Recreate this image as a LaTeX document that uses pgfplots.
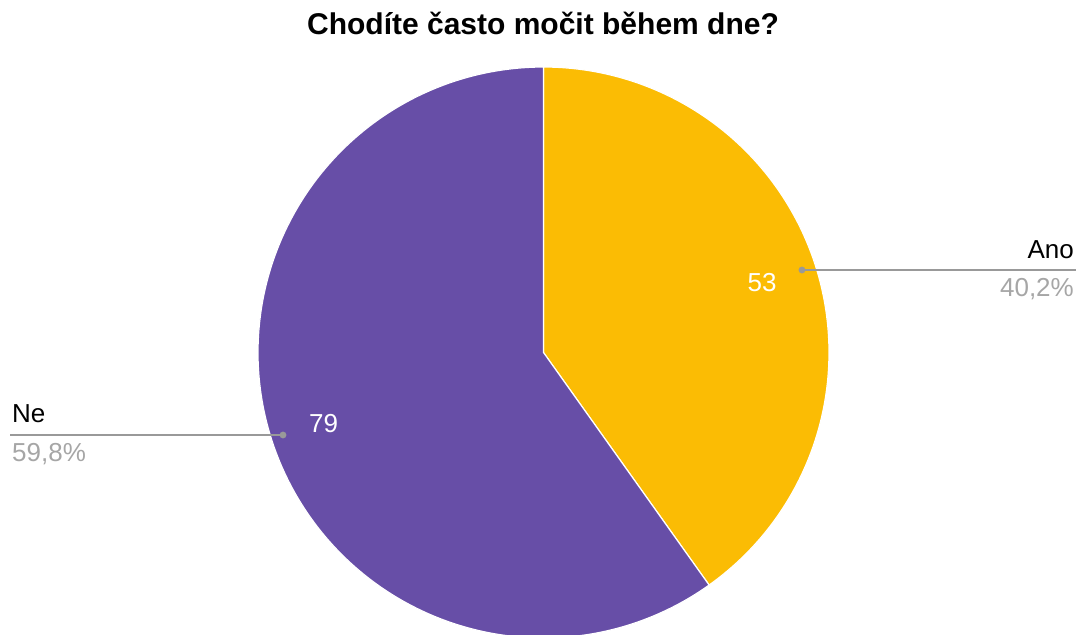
\documentclass[border=0pt]{standalone}
\usepackage{pgfplots}
\pgfplotsset{compat=1.18}
\usepackage{fontspec}
\setmainfont{Liberation Sans}
\definecolor{anoc}{HTML}{FBBC04}
\definecolor{nec}{HTML}{674EA7}
\definecolor{lead}{HTML}{999999}
\definecolor{pctc}{HTML}{A6A6A6}
% data
\def\valAno{53}
\def\valNe{79}
\begin{document}
\begin{tikzpicture}
\path[use as bounding box] (0,0) rectangle (1078bp,635bp);
\pgfmathsetmacro{\tot}{\valAno+\valNe}
\pgfmathsetmacro{\angA}{\valAno/\tot*360}
\begin{axis}[
  at={(0,0)}, anchor=south west,
  scale only axis, width=1078bp, height=635bp,
  xmin=0, xmax=1078, ymin=0, ymax=635, y dir=reverse,
  hide axis, clip=true,
]
% slices (angle measured clockwise from top)
\addplot[fill=anoc, draw=white, line width=1.2bp, samples=150, domain=0:\angA, variable=\t]
  ({543.5+285.5*sin(\t)},{352.5-285.5*cos(\t)}) -- (axis cs:543.5,352.5) -- cycle;
\addplot[fill=nec, draw=white, line width=1.2bp, samples=200, domain=\angA:360, variable=\t]
  ({543.5+285.5*sin(\t)},{352.5-285.5*cos(\t)}) -- (axis cs:543.5,352.5) -- cycle;
% leader lines
\addplot[lead, line width=1.3bp] coordinates {(802,270) (1076,270)};
\addplot[lead, line width=1.3bp] coordinates {(10,435) (283,435)};
\addplot[only marks, mark=*, mark size=3.2bp, lead, mark options={draw=lead, fill=lead}] coordinates {(802,270) (283,435)};
\end{axis}
% texts (pixel coordinates, y from top)
\node[anchor=base, font=\fontsize{30bp}{36bp}\selectfont\bfseries] at (543bp,{635bp-35bp}) {Chodíte často močit během dne?};
\node[anchor=base east, inner sep=0pt, font=\fontsize{26bp}{30bp}\selectfont] at (1074bp,{635bp-259bp}) {Ano};
\node[anchor=base east, inner sep=0pt, text=pctc, font=\fontsize{26bp}{30bp}\selectfont] at (1074bp,{635bp-297bp}) {40,2\%};
\node[anchor=base west, inner sep=0pt, font=\fontsize{26bp}{30bp}\selectfont] at (12bp,{635bp-423bp}) {Ne};
\node[anchor=base west, inner sep=0pt, text=pctc, font=\fontsize{26bp}{30bp}\selectfont] at (12bp,{635bp-462bp}) {59,8\%};
\node[anchor=base, inner sep=0pt, text=white, font=\fontsize{26bp}{30bp}\selectfont] at (762bp,{635bp-292bp}) {53};
\node[anchor=base, inner sep=0pt, text=white, font=\fontsize{26bp}{30bp}\selectfont] at (323.5bp,{635bp-433bp}) {79};
\end{tikzpicture}
\end{document}
